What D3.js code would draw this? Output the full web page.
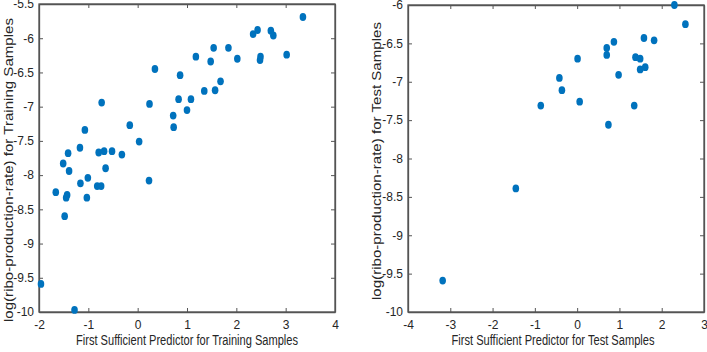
<!DOCTYPE html>
<html>
<head>
<meta charset="utf-8">
<script src="https://cdn.jsdelivr.net/npm/d3@7"></script>
<style>
body { margin: 0; background: #fff; }
text { font-family: "Liberation Sans Narrow", "Liberation Sans", Arial, sans-serif; fill: #262626; }
</style>
</head>
<body>
<svg id="chart" width="707" height="352"></svg>
<script>
// training samples
var trainX = [3.35, 2.34, 2.43, 2.70, 2.75, 2.49, 2.48, 3.02, 2.02, 1.84,
  1.54, 1.48, 1.18, 1.68, 1.57, 1.35, 0.86, 1.08, 0.83, 1.00,
  0.72, 0.73, 0.35, 0.24, 0.03, -0.16, -0.32, -0.52, -0.68, -0.79,
  -0.73, -0.65, -1.07, -1.17, -1.41, -1.39, -1.51, -1.01, 0.23, -1.16,
  -1.66, -1.43, -1.45, -1.03, -0.82, -0.74, -1.48, -1.96, -1.28];
var trainY = [-5.69, -5.94, -5.88, -5.89, -5.96, -6.27, -6.32, -6.24, -6.30, -6.14,
  -6.14, -6.34, -6.27, -6.63, -6.76, -6.77, -6.54, -6.89, -6.89, -7.05,
  -7.13, -7.30, -6.45, -6.96, -7.51, -7.27, -7.70, -7.65, -7.65, -7.67,
  -6.94, -7.90, -7.34, -7.60, -7.68, -7.94, -7.83, -8.04, -8.08, -8.12,
  -8.25, -8.29, -8.33, -8.33, -8.16, -8.16, -8.60, -9.59, -9.97];

// test samples (right panel)
var testX = [2.30, 2.56, 1.58, 1.82, 0.87, 0.70, 0.70, 1.38, 1.49, 1.61,
  1.49, 0.01, 0.98, -0.42, -0.36, 0.06, -0.86, 1.35, 0.74, -1.45, -3.18];
var testY = [-6.00, -6.25, -6.43, -6.46, -6.48, -6.56, -6.65, -6.68, -6.70, -6.81,
  -6.84, -6.70, -6.91, -6.95, -7.11, -7.26, -7.31, -7.31, -7.56, -8.39, -9.59];

var trainXTicks = [-2, -1, 0, 1, 2, 3, 4];
var trainYTicks = [-10, -9.5, -9, -8.5, -8, -7.5, -7, -6.5, -6, -5.5];
var testXTicks = [-4, -3, -2, -1, 0, 1, 2, 3];
var testYTicks = [-10, -9.5, -9, -8.5, -8, -7.5, -7, -6.5, -6];

var svg = d3.select("#chart");

function panel(p) {
  var x = d3.scaleLinear().domain(p.xDomain).range([p.left, p.right]);
  var y = d3.scaleLinear().domain(p.yDomain).range([p.bottom, p.top]);
  var g = svg.append("g");
  var fmt = function(d) { return String(d); };

  // bottom / left axes with labels, ticks pointing inward
  var bx = g.append("g").attr("transform", "translate(0," + p.bottom + ")")
    .call(d3.axisBottom(x).tickValues(p.xTicks).tickSizeInner(-4).tickSizeOuter(0).tickPadding(8).tickFormat(fmt));
  var ly = g.append("g").attr("transform", "translate(" + p.left + ",0)")
    .call(d3.axisLeft(y).tickValues(p.yTicks).tickSizeInner(-4).tickSizeOuter(0).tickPadding(5).tickFormat(fmt));
  // top / right: ticks only
  g.append("g").attr("transform", "translate(0," + p.top + ")")
    .call(d3.axisTop(x).tickValues(p.xTicks).tickSizeInner(-4).tickSizeOuter(0).tickFormat(""));
  g.append("g").attr("transform", "translate(" + p.right + ",0)")
    .call(d3.axisRight(y).tickValues(p.yTicks).tickSizeInner(-4).tickSizeOuter(0).tickFormat(""));

  g.selectAll(".tick line").attr("stroke", "#555");
  g.selectAll(".domain").attr("stroke", "#555").attr("stroke-width", 1.3);
  g.selectAll(".tick text").attr("font-size", 12).attr("font-family", null).style("fill", "#262626");

  g.append("rect")
    .attr("x", p.left).attr("y", p.top)
    .attr("width", p.right - p.left).attr("height", p.bottom - p.top)
    .attr("fill", "none").attr("stroke", "#555").attr("stroke-width", 1.3);

  g.selectAll("ellipse.pt")
    .data(d3.range(p.xs.length))
    .enter().append("ellipse")
    .attr("class", "pt")
    .attr("cx", function(i) { return x(p.xs[i]); })
    .attr("cy", function(i) { return y(p.ys[i]); })
    .attr("rx", 3.3).attr("ry", 3.9)
    .attr("fill", "#0072BD");

  g.append("text")
    .attr("x", (p.left + p.right) / 2 + p.xLabelShift).attr("y", 345)
    .attr("text-anchor", "middle").attr("font-size", 14)
    .attr("textLength", p.xLabelLen).attr("lengthAdjust", "spacingAndGlyphs")
    .text(p.xLabel);

  g.append("text")
    .attr("transform", "translate(" + p.yLabelX + "," + p.yLabelY + ") rotate(-90)")
    .attr("text-anchor", "middle").attr("font-size", 13)
    .attr("textLength", p.yLabelLen).attr("lengthAdjust", "spacingAndGlyphs")
    .text(p.yLabel);
}

panel({
  xs: trainX, ys: trainY, xDomain: [-2, 4], yDomain: [-10, -5.5],
  xTicks: trainXTicks, yTicks: trainYTicks,
  left: 39, right: 335, top: 4, bottom: 312,
  xLabel: "First Sufficient Predictor for Training Samples", xLabelShift: 0, xLabelLen: 222,
  yLabel: "log(ribo-production-rate) for Training Samples", yLabelX: 13, yLabelY: 170, yLabelLen: 304
});

panel({
  xs: testX, ys: testY, xDomain: [-4, 3], yDomain: [-10, -6],
  xTicks: testXTicks, yTicks: testYTicks,
  left: 408, right: 704, top: 5, bottom: 312,
  xLabel: "First Sufficient Predictor for Test Samples", xLabelShift: -3, xLabelLen: 203,
  yLabel: "log(ribo-production-rate) for Test Samples", yLabelX: 381, yLabelY: 161, yLabelLen: 278
});
</script>
</body>
</html>
